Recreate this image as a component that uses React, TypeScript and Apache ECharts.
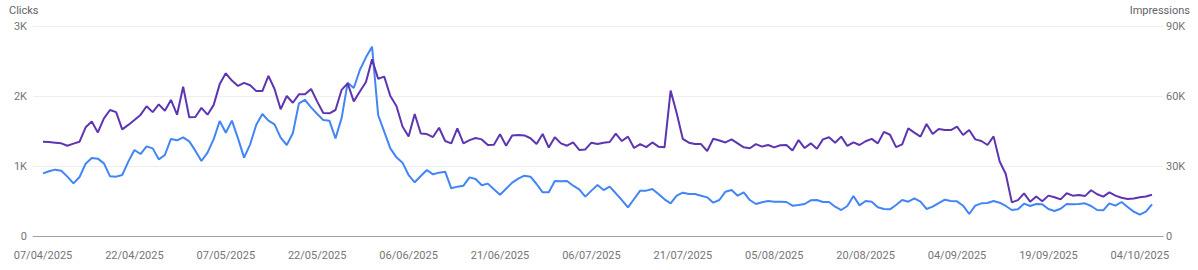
import React, { useEffect, useRef } from "react";
import * as echarts from "echarts";

const START_DATE = "2025-04-07";

const clicks: number[] = [
  895, 924, 948, 933, 848, 752, 843, 1033, 1114, 1105, 1038, 852, 848, 871, 1062, 1229, 1171, 1281, 1252, 1095,
  1157, 1386, 1367, 1410, 1352, 1219, 1071, 1190, 1381, 1643, 1476, 1648, 1395, 1119, 1310, 1590, 1743, 1648, 1595, 1405,
  1300, 1467, 1895, 1943, 1838, 1743, 1657, 1648, 1395, 1681, 2190, 2114, 2371, 2552, 2705, 1729, 1490, 1252, 1124, 1048, 871,
  767, 857, 943, 881, 905, 919, 681, 705, 719, 838, 814, 724, 748, 667, 590, 676, 762, 819, 862, 848,
  743, 624, 624, 786, 781, 786, 719, 667, 562, 648, 729, 657, 705, 610, 514, 410, 529, 648, 648, 671, 600,
  524, 467, 576, 619, 600, 600, 576, 552, 476, 514, 633, 657, 576, 624, 514, 457, 481, 500, 490, 490,
  486, 433, 443, 457, 510, 514, 486, 486, 419, 371, 429, 571, 438, 500, 490, 410, 386, 381, 443, 514, 490,
  538, 490, 386, 419, 471, 519, 500, 495, 433, 314, 433, 467, 471, 500, 476, 429, 371, 381, 462, 429,
  457, 452, 386, 357, 390, 457, 452, 457, 467, 429, 371, 367, 467, 433, 486, 414, 348, 305, 348, 452,
];

const impressionsK: number[] = [
  40.4, 40.3, 40.0, 39.7, 38.7, 39.6, 40.4, 46.6, 49.1, 44.4, 50.4, 54.0, 53.1, 45.7, 47.6, 49.7, 51.9, 55.6, 53.1, 56.4,
  53.7, 58.3, 52.0, 64.0, 50.9, 51.0, 54.9, 52.0, 56.1, 65.1, 69.7, 66.6, 64.3, 65.6, 64.6, 62.1, 62.1, 68.6, 63.0, 54.3,
  60.0, 57.1, 60.7, 60.7, 63.0, 57.6, 52.7, 52.6, 54.0, 62.6, 65.4, 57.7, 61.9, 66.0, 75.7, 67.4, 68.3, 60.0, 55.7, 46.9, 42.6,
  52.3, 43.9, 43.7, 42.4, 46.4, 40.7, 39.7, 46.1, 39.7, 41.1, 42.0, 41.4, 39.0, 39.1, 43.6, 38.7, 43.1, 43.3, 43.1, 41.9,
  39.4, 43.7, 37.9, 42.3, 39.7, 38.7, 40.1, 36.9, 37.1, 40.0, 39.4, 40.0, 40.3, 43.9, 40.7, 42.6, 37.7, 39.4, 38.1, 40.1, 38.3,
  38.0, 62.3, 52.6, 41.6, 40.0, 39.4, 39.4, 36.4, 41.7, 40.9, 40.1, 41.4, 39.7, 38.0, 37.6, 39.4, 38.3, 39.0, 38.0, 38.9,
  39.0, 36.6, 41.1, 37.7, 39.7, 37.4, 41.4, 42.3, 40.0, 42.6, 38.6, 40.1, 39.0, 40.6, 41.6, 39.7, 44.6, 43.4, 38.1, 39.3, 46.1,
  44.3, 42.6, 48.0, 43.7, 45.9, 45.4, 45.4, 46.9, 43.3, 45.4, 41.4, 40.7, 39.0, 42.7, 31.9, 26.6, 14.4, 15.4, 18.3, 14.7,
  16.9, 14.9, 17.3, 16.6, 15.7, 18.3, 17.3, 17.6, 17.1, 19.6, 17.9, 16.9, 18.7, 17.3, 16.4, 15.9, 16.1, 16.6, 16.9, 17.7,
];

const xTickDays: number[] = [0, 15, 30, 45, 60, 75, 90, 105, 120, 135, 150, 165, 180];
const xTickLabels: string[] = [
  "07/04/2025", "22/04/2025", "07/05/2025", "22/05/2025", "06/06/2025", "21/06/2025", "06/07/2025",
  "21/07/2025", "05/08/2025", "20/08/2025", "04/09/2025", "19/09/2025", "04/10/2025",
];

const clicksTicks = { min: 0, max: 3000, interval: 1000 };
const impressionsTicks = { min: 0, max: 90000, interval: 30000 };

const FONT = "Roboto, 'Noto Sans', sans-serif";
const LABEL_COLOR = "#757575";

function kFormat(v: number): string {
  return v === 0 ? "0" : `${v / 1000}K`;
}

export default function App() {
  const ref = useRef<HTMLDivElement>(null);

  useEffect(() => {
    document.body.style.margin = "0";
    if (!ref.current) return;
    const chart = echarts.init(ref.current, undefined, { renderer: "svg" });
    const lastDay = clicks.length - 1;
    const pxPerDay = (1152 - 43) / lastDay;

    chart.setOption({
      animation: false,
      grid: { left: 33, right: 35, top: 26, bottom: 34, containLabel: false },
      graphic: [
        {
          type: "text",
          left: 9,
          top: 5,
          style: { text: "Clicks", font: `11px ${FONT}`, fill: "#5f6368" },
        },
        {
          type: "text",
          right: 8,
          top: 5,
          style: { text: "Impressions", font: `11px ${FONT}`, fill: "#5f6368" },
        },
      ],
      xAxis: {
        type: "value",
        min: -10 / pxPerDay,
        max: lastDay + 11 / pxPerDay,
        axisLine: { show: true, lineStyle: { color: "#a0a0a0", width: 1 } },
        axisTick: { show: false },
        splitLine: { show: false },
        axisLabel: {
          customValues: xTickDays,
          formatter: (v: number) => {
            const idx = xTickDays.indexOf(Math.round(v));
            return idx >= 0 ? xTickLabels[idx] : "";
          },
          color: LABEL_COLOR,
          fontFamily: FONT,
          fontSize: 11,
          margin: 14,
          hideOverlap: false,
          showMinLabel: true,
          showMaxLabel: true,
        },
      },
      yAxis: [
        {
          type: "value",
          ...clicksTicks,
          axisLine: { show: false },
          axisTick: { show: false },
          splitLine: { show: true, lineStyle: { color: "#eeeeee", width: 1 } },
          axisLabel: { formatter: kFormat, color: LABEL_COLOR, fontFamily: FONT, fontSize: 11, margin: 6 },
        },
        {
          type: "value",
          ...impressionsTicks,
          position: "right",
          axisLine: { show: false },
          axisTick: { show: false },
          splitLine: { show: false },
          axisLabel: { formatter: kFormat, color: LABEL_COLOR, fontFamily: FONT, fontSize: 11, margin: 3 },
        },
      ],
      series: [
        {
          name: "Clicks",
          type: "line",
          yAxisIndex: 0,
          data: clicks.map((v, i) => [i, v]),
          showSymbol: false,
          lineStyle: { color: "#4285f4", width: 2 },
          itemStyle: { color: "#4285f4" },
          z: 2,
        },
        {
          name: "Impressions",
          type: "line",
          yAxisIndex: 1,
          data: impressionsK.map((v, i) => [i, v * 1000]),
          showSymbol: false,
          lineStyle: { color: "#5e35b1", width: 2 },
          itemStyle: { color: "#5e35b1" },
          z: 3,
        },
      ],
    });
    void START_DATE;
    return () => chart.dispose();
  }, []);

  return <div ref={ref} style={{ width: 1198, height: 270 }} />;
}
